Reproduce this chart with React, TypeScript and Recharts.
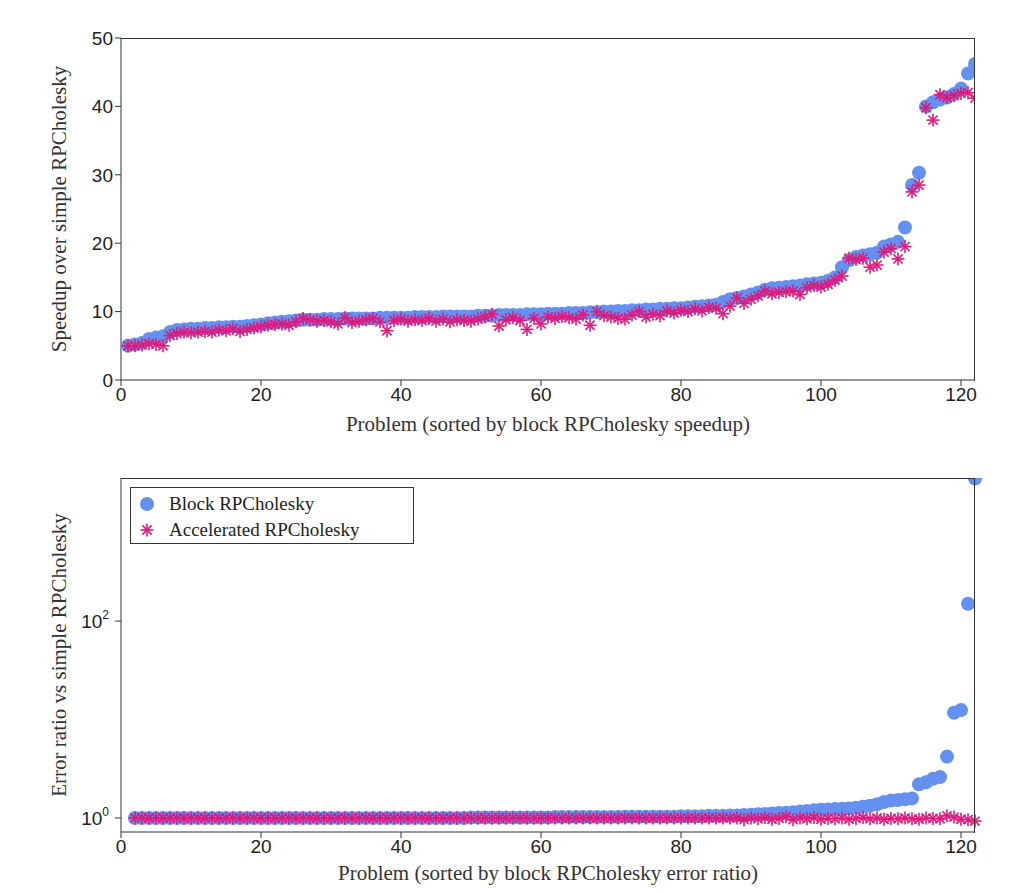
import React from 'react';
import { ScatterChart, Scatter, XAxis, YAxis, Label } from 'recharts';

const speedupBlock = [5.0,5.2,5.4,6.0,6.2,6.4,7.0,7.3,7.4,7.5,
7.5,7.6,7.6,7.7,7.7,7.8,7.8,7.9,8.0,8.1,
8.3,8.4,8.5,8.6,8.7,8.8,8.8,8.8,8.9,8.9,
8.9,9.0,9.0,9.0,9.0,9.0,9.1,9.1,9.1,9.1,
9.1,9.2,9.2,9.2,9.2,9.3,9.3,9.3,9.3,9.3,
9.4,9.4,9.4,9.5,9.5,9.5,9.5,9.6,9.6,9.6,
9.7,9.7,9.7,9.8,9.8,9.8,9.9,9.9,10.0,10.0,
10.1,10.1,10.2,10.2,10.3,10.3,10.4,10.4,10.5,10.5,
10.6,10.7,10.8,10.9,11.0,11.4,11.8,12.0,12.2,12.5,
12.8,13.2,13.4,13.5,13.6,13.7,13.8,14.0,14.1,14.2,
14.5,15.0,16.5,17.5,18.0,18.2,18.4,18.6,19.5,19.8,
20.2,22.3,28.5,30.3,40.0,40.6,41.0,41.3,41.8,42.6,
44.8,46.2];

const speedupAccel = [5.0,5.0,5.1,5.3,5.2,5.0,6.5,6.8,7.0,6.9,
7.0,7.1,7.0,7.3,7.2,7.5,7.1,7.4,7.6,7.8,
8.0,8.1,8.2,8.0,8.5,9.0,8.8,8.6,8.7,8.5,
8.2,9.1,8.4,8.6,8.8,9.0,8.5,7.2,8.7,8.9,
8.6,8.8,8.7,9.0,8.6,8.9,8.5,8.8,8.7,8.6,
8.9,9.2,9.6,7.9,8.8,9.1,8.7,7.4,9.0,8.2,
9.2,9.0,9.3,9.1,8.9,9.5,8.0,10.0,9.4,9.2,
9.0,8.9,9.5,10.0,9.2,9.6,9.4,10.1,9.8,10.2,
10.0,10.4,10.1,10.6,10.5,9.7,10.8,12.0,11.2,11.8,
12.3,13.0,12.6,12.8,12.9,13.0,12.5,13.5,13.8,13.6,
14.0,14.6,15.2,17.8,17.6,17.8,16.5,16.8,18.7,19.2,
17.7,19.5,27.5,28.5,39.8,38.0,41.7,41.3,41.6,41.9,
42.0,41.2];

// problems 2..122
const errorBlock = [1.0,1.0,1.0,1.0,1.0,1.0,1.0,1.0,1.0,1.0,
1.0,1.0,1.0,1.0,1.0,1.0,1.0,1.0,1.0,1.0,
1.0,1.0,1.0,1.0,1.0,1.0,1.0,1.0,1.0,1.0,
1.0,1.0,1.0,1.0,1.0,1.0,1.0,1.0,1.0,1.0,
1.0,1.0,1.0,1.0,1.0,1.0,1.0,1.0,1.01,1.01,
1.01,1.01,1.01,1.01,1.01,1.01,1.01,1.01,1.01,1.01,
1.02,1.02,1.02,1.02,1.02,1.02,1.02,1.02,1.02,1.02,
1.03,1.03,1.03,1.03,1.03,1.03,1.03,1.03,1.04,1.04,
1.04,1.04,1.05,1.05,1.05,1.06,1.06,1.07,1.08,1.09,
1.10,1.11,1.12,1.13,1.14,1.16,1.18,1.2,1.21,1.22,
1.23,1.24,1.25,1.27,1.3,1.33,1.38,1.45,1.5,1.52,
1.55,1.58,2.2,2.3,2.5,2.6,4.2,11.7,12.5,150,
2800];

const errorAccel = [1.0,1.0,1.0,1.0,1.0,1.0,1.0,1.0,1.0,1.0,
1.0,1.0,1.0,1.0,1.0,1.0,1.0,1.0,1.0,1.0,
1.0,1.0,1.0,1.0,1.0,1.0,1.0,1.0,1.0,1.0,
1.0,1.0,1.0,1.0,1.0,1.0,1.0,1.0,1.0,1.0,
1.0,1.0,1.0,1.0,1.0,1.0,1.0,1.0,1.0,1.0,
1.0,1.0,1.0,1.0,1.0,1.0,1.0,1.0,1.0,1.0,
1.0,1.0,1.0,1.0,1.0,1.0,1.0,1.0,1.0,1.0,
1.0,1.0,1.0,1.0,1.0,1.0,1.0,1.0,1.0,1.0,
1.0,1.0,1.0,1.0,1.0,1.0,1.0,0.96,1.0,0.98,
1.01,0.97,0.99,1.03,0.96,1.0,0.98,1.01,0.97,0.99,
0.98,1.0,0.97,0.99,1.01,0.98,1.0,0.97,0.99,0.98,
1.0,0.98,0.97,1.0,0.99,0.98,1.05,1.02,0.97,0.96,
0.93];

const sTopBlock = speedupBlock.map((y, i) => ({ x: i + 1, y }));
const sTopAccel = speedupAccel.map((y, i) => ({ x: i + 1, y }));
const sBotBlock = errorBlock.map((y, i) => ({ x: i + 2, y }));
const sBotAccel = errorAccel.map((y, i) => ({ x: i + 2, y }));

const BLUE = '#6491f0';
const PINK = '#e0197d';

const Circle = (p: any) => <circle cx={p.cx} cy={p.cy} r={7} fill={BLUE} />;
const Star = (p: any) => {
  const r = 6.5, d = r * 0.707, { cx, cy } = p;
  return (
    <g stroke={PINK} strokeWidth={1.6}>
      <line x1={cx - r} y1={cy} x2={cx + r} y2={cy} />
      <line x1={cx} y1={cy - r} x2={cx} y2={cy + r} />
      <line x1={cx - d} y1={cy - d} x2={cx + d} y2={cy + d} />
      <line x1={cx - d} y1={cy + d} x2={cx + d} y2={cy - d} />
    </g>
  );
};

const tickFont = { fontFamily: 'Liberation Sans, Arial', fontSize: 19, fill: '#222' };
const titleFont = { fontFamily: 'Liberation Serif, Times New Roman', fontSize: 21, fill: '#333' };
const xTicks = [0, 20, 40, 60, 80, 100, 120];

const LogTick = (p: any) => {
  const { x, y, payload } = p;
  const exp = Math.round(Math.log10(payload.value));
  return (
    <text x={x - 4} y={y + 7} textAnchor="end" style={tickFont as any}>
      10<tspan dy={-9} fontSize={12}>{exp}</tspan>
    </text>
  );
};

const LegendBox = () => (
  <div style={{ position: 'absolute', left: 130, top: 487, width: 284, height: 57, border: '1px solid #333', background: '#fff', fontFamily: 'Liberation Serif, Times New Roman', fontSize: 19, color: '#222', boxSizing: 'border-box' }}>
    <svg width={24} height={57} style={{ position: 'absolute', left: 4, top: 0 }}>
      <Circle cx={12} cy={16} />
      <Star cx={12} cy={42} />
    </svg>
    <div style={{ position: 'absolute', left: 38, top: 5 }}>Block RPCholesky</div>
    <div style={{ position: 'absolute', left: 38, top: 31 }}>Accelerated RPCholesky</div>
  </div>
);

const Frame = ({ top, height }: { top: number; height: number }) => (
  <div style={{ position: 'absolute', left: 121, top, width: 854, height, borderTop: '1px solid #333', borderRight: '1px solid #333', boxSizing: 'border-box', pointerEvents: 'none' }} />
);

export default function App() {
  return (
    <div style={{ position: 'relative', width: 1023, height: 893, margin: -8, background: '#fff' }}>
      <div style={{ position: 'absolute', left: 0, top: 0 }}>
        <ScatterChart width={1023} height={445} margin={{ top: 38, right: 48, bottom: 35, left: 61 }}>
          <XAxis type="number" dataKey="x" domain={[0, 122]} ticks={xTicks} tick={tickFont} stroke="#333" tickSize={6} height={30} allowDataOverflow>
            <Label value="Problem (sorted by block RPCholesky speedup)" position="bottom" offset={6} style={titleFont} />
          </XAxis>
          <YAxis type="number" dataKey="y" domain={[0, 50]} ticks={[0, 10, 20, 30, 40, 50]} tick={tickFont} stroke="#333" tickSize={6} width={60}>
            <Label value="Speedup over simple RPCholesky" angle={-90} position="insideLeft" offset={-2} style={{ ...titleFont, textAnchor: 'middle' }} />
          </YAxis>
          <Scatter data={sTopBlock} shape={Circle} isAnimationActive={false} />
          <Scatter data={sTopAccel} shape={Star} isAnimationActive={false} />
        </ScatterChart>
      </div>
      <Frame top={38} height={343} />
      <div style={{ position: 'absolute', left: 0, top: 440 }}>
        <ScatterChart width={1023} height={453} margin={{ top: 38, right: 48, bottom: 31, left: 61 }}>
          <XAxis type="number" dataKey="x" domain={[0, 122]} ticks={xTicks} tick={tickFont} stroke="#333" tickSize={6} height={30}>
            <Label value="Problem (sorted by block RPCholesky error ratio)" position="bottom" offset={3} style={titleFont} />
          </XAxis>
          <YAxis type="number" dataKey="y" scale="log" domain={[0.72, 2840]} ticks={[1, 100]} tick={<LogTick />} stroke="#333" tickSize={6} width={60} allowDataOverflow>
            <Label value="Error ratio vs simple RPCholesky" angle={-90} position="insideLeft" offset={-2} style={{ ...titleFont, textAnchor: 'middle' }} />
          </YAxis>
          <Scatter data={sBotBlock} shape={Circle} isAnimationActive={false} />
          <Scatter data={sBotAccel} shape={Star} isAnimationActive={false} />
        </ScatterChart>
      </div>
      <Frame top={478} height={355} />
      <LegendBox />
    </div>
  );
}
